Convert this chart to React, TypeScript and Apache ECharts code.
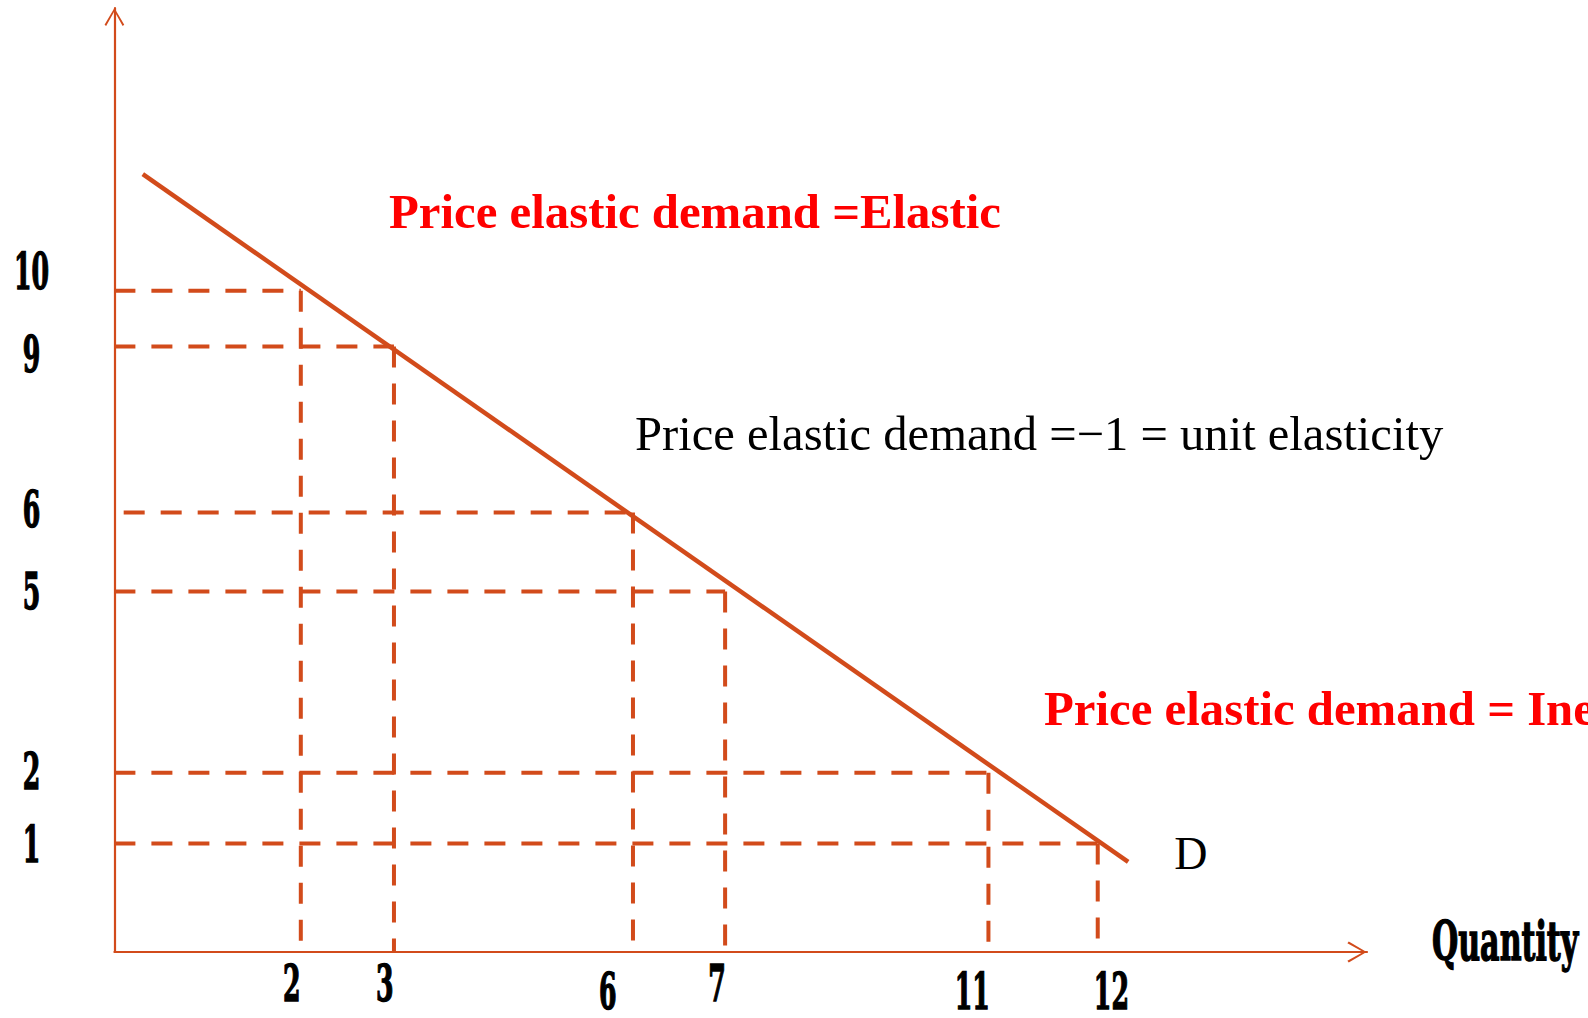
import React, { useEffect, useRef } from "react";
import * as echarts from "echarts";

// Quantity ticks (labels), their positions on the sketch's x axis, and label positions
const quantityLabels = ["2", "3", "6", "7", "11", "12"];
const quantityLinePos = [2.009, 3.013, 5.589, 6.582, 9.42, 10.598];
const quantityLabelPos = [1.911, 2.915, 5.316, 6.495, 9.245, 10.745];
const quantityLowLabels = ["6", "11", "12"];

// Price ticks (labels), their positions on the sketch's y axis, and label positions
const priceLabels = ["10", "9", "6", "5", "2", "1"];
const priceLinePos = [9.807, 8.981, 6.518, 5.346, 2.659, 1.608];
const priceLabelPos = [10.094, 8.862, 6.563, 5.346, 2.674, 1.597];
// horizontal guides start (x) — the "6" guide starts a bit away from the axis
const priceGuideStart = [0, 0, 0.1, 0, 0, 0];

// Demand curve end points (sketch units)
const demandX = [0.306, 10.926];
const demandY = [11.535, 1.336];

const X_MAX = 13.5;
const Y_MAX = 14;

const ORANGE = "#D24B1B";
const ARROW = "path://M10,0 L20,17 L18.4,18.3 L10,3.2 L1.6,18.3 L0,17 Z";
const CONDENSED = '"DejaVu Serif Condensed", "DejaVu Serif", serif';
const SERIF = '"Liberation Serif", "DejaVu Serif", serif';

export default function App() {
  const ref = useRef<HTMLDivElement>(null);

  useEffect(() => {
    if (!ref.current) return;
    const chart = echarts.init(ref.current, null, { renderer: "svg" });

    const guideSeries: any[] = [];
    quantityLinePos.forEach((q, i) => {
      const p = priceLinePos[i];
      guideSeries.push({
        type: "line",
        data: [
          [priceGuideStart[i], p],
          [q, p],
        ],
        symbol: "none",
        silent: true,
        lineStyle: { color: ORANGE, width: 4, type: [21, 16] },
        z: 2,
      });
      guideSeries.push({
        type: "line",
        data: [
          [q, p],
          [q, 0],
        ],
        symbol: "none",
        silent: true,
        lineStyle: { color: ORANGE, width: 4, type: [21, 16] },
        z: 2,
      });
    });

    const tickText = (text: string, x: number, y: number) => ({
      type: "text",
      x,
      y,
      scaleX: 0.56,
      style: {
        text,
        fill: "#000",
        stroke: "#000",
        lineWidth: 1.4,
        font: `bold 50px ${CONDENSED}`,
        lineHeight: 38,
        align: "center",
        verticalAlign: "middle",
      },
    });

    const option: any = {
      animation: false,
      backgroundColor: "#ffffff",
      grid: {
        left: 114.4,
        right: 221,
        top: 8,
        bottom: 66,
        containLabel: false,
        outerBoundsMode: "none",
      },
      xAxis: {
        type: "value",
        min: 0,
        max: X_MAX,
        splitLine: { show: false },
        axisLine: {
          show: true,
          lineStyle: { color: ORANGE, width: 2.2 },
          symbol: ["none", ARROW],
          symbolSize: [21, 20],
          symbolOffset: [0, -10],
        },
        axisTick: { show: false },
        axisLabel: { show: false },
      },
      yAxis: {
        type: "value",
        min: 0,
        max: Y_MAX,
        splitLine: { show: false },
        axisLine: {
          show: true,
          lineStyle: { color: ORANGE, width: 2.2 },
          symbol: ["none", ARROW],
          symbolSize: [20, 18],
          symbolOffset: [0, -9],
        },
        axisTick: { show: false },
        axisLabel: { show: false },
      },
      series: [
        ...guideSeries,
        {
          type: "line",
          data: demandX.map((x, i) => [x, demandY[i]]),
          symbol: "none",
          silent: true,
          lineStyle: { color: ORANGE, width: 4.5 },
          z: 3,
          endLabel: {
            show: true,
            formatter: "D",
            color: "#000",
            fontFamily: SERIF,
            fontSize: 46,
            offset: [38, -8],
          },
        },
        {
          // quantity tick labels
          type: "custom",
          silent: true,
          clip: false,
          data: quantityLabelPos.map((q) => [q, 0]),
          renderItem: (params: any, api: any) => {
            const pt = api.coord([api.value(0), api.value(1)]);
            const t = quantityLabels[params.dataIndex];
            const dy = quantityLowLabels.includes(t) ? 40 : 32;
            return tickText(t, pt[0], pt[1] + dy);
          },
          z: 5,
        },
        {
          // price tick labels
          type: "custom",
          silent: true,
          clip: false,
          data: priceLabelPos.map((p) => [0, p]),
          renderItem: (params: any, api: any) => {
            const pt = api.coord([api.value(0), api.value(1)]);
            const t = priceLabels[params.dataIndex];
            return tickText(t, pt[0] - 83, pt[1]);
          },
          z: 5,
        },
      ],
      graphic: [
        {
          type: "text",
          x: 389,
          y: 212,
          style: {
            text: "Price elastic demand =Elastic",
            fill: "#FF0000",
            font: `bold 48.8px ${SERIF}`,
            verticalAlign: "middle",
          },
        },
        {
          type: "text",
          x: 635,
          y: 434,
          style: {
            text: "Price elastic demand =\u22121 = unit elasticity",
            fill: "#000000",
            font: `48.6px ${SERIF}`,
            verticalAlign: "middle",
          },
        },
        {
          type: "text",
          x: 1044,
          y: 709,
          style: {
            text: "Price elastic demand = Inelastic",
            fill: "#FF0000",
            font: `bold 48.8px ${SERIF}`,
            verticalAlign: "middle",
          },
        },
        {
          type: "text",
          x: 1432,
          y: 941,
          scaleX: 0.62,
          style: {
            text: "Quantity",
            fill: "#000000",
            stroke: "#000000",
            lineWidth: 1.4,
            font: `bold 54px ${CONDENSED}`,
            lineHeight: 44,
            verticalAlign: "middle",
          },
        },
      ],
    };

    chart.setOption(option);
    return () => chart.dispose();
  }, []);

  return (
    <div
      ref={ref}
      style={{
        position: "fixed",
        left: 0,
        top: 0,
        width: 1588,
        height: 1018,
        overflow: "hidden",
        background: "#fff",
      }}
    />
  );
}
